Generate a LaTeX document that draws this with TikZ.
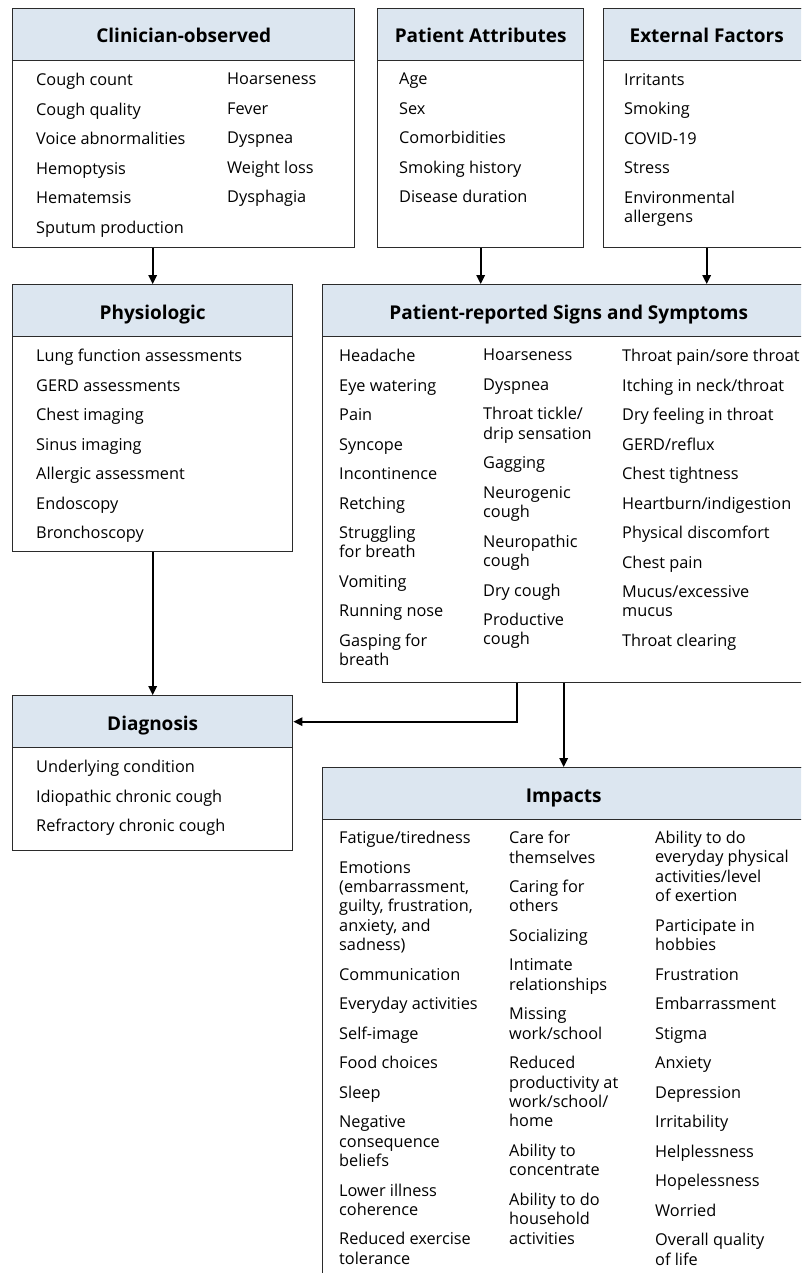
\documentclass[tikz,border=0pt]{standalone}
\usepackage{fontspec}
\setmainfont{Open Sans}
\usetikzlibrary{arrows.meta}
\definecolor{headblue}{HTML}{DCE6F0}
\definecolor{edge}{HTML}{2B2B2B}
\newcommand{\nxt}{\\[10.1pt]}

\begin{document}
\begin{tikzpicture}[x=1pt,y=-1pt,
  body/.style={draw=edge, line width=1.4pt, fill=white, anchor=north west, inner sep=0pt},
  head/.style={draw=edge, line width=1.4pt, fill=headblue, anchor=north west, inner sep=0pt,
    minimum height=52pt, text height=18pt, text depth=1.4pt, font=\bfseries\fontsize{19}{22}\selectfont},
  items/.style={anchor=north west, align=left, inner sep=0pt, font=\fontsize{16.3}{19.4}\selectfont},
  arr/.style={-{Triangle[length=9pt,width=8.5pt]}, line width=1.6pt}]

\useasboundingbox (0,0) rectangle (801,1273);
\clip (0,0) rectangle (801,1273);

% top row
\node[body, minimum width=342pt, minimum height=239pt] (clin) at (12,8) {};
\node[head, minimum width=342pt] (clinH) at (12,8) {Clinician-observed};
\node[items] (clinA) at (36,73) {Cough count\nxt Cough quality\nxt Voice abnormalities\nxt Hemoptysis\nxt Hematemsis\nxt Sputum production};
\node[items] (clinB) at (227,73) {Hoarseness\nxt Fever\nxt Dyspnea\nxt Weight loss\nxt Dysphagia};

\node[body, minimum width=206pt, minimum height=239pt] (attr) at (377,8) {};
\node[head, minimum width=206pt] (attrH) at (377,8) {Patient Attributes};
\node[items] (attrA) at (399,73) {Age\nxt Sex\nxt Comorbidities\nxt Smoking history\nxt Disease duration};

\node[body, minimum width=206pt, minimum height=239pt] (ext) at (603,8) {};
\node[head, minimum width=206pt] (extH) at (603,8) {External Factors};
\node[items] (extA) at (624,73) {Irritants\nxt Smoking\nxt COVID-19\nxt Stress\nxt Environmental\\allergens};

% middle row
\node[body, minimum width=280pt, minimum height=267pt] (phys) at (12,284) {};
\node[head, minimum width=280pt] (physH) at (12,284) {Physiologic};
\node[items] (physA) at (36,349) {Lung function assessments\nxt GERD assessments\nxt Chest imaging\nxt Sinus imaging\nxt Allergic assessment\nxt Endoscopy\nxt Bronchoscopy};

\node[body, minimum width=492pt, minimum height=398pt] (sym) at (322,284) {};
\node[head, minimum width=492pt] (symH) at (322,284) {Patient-reported Signs and Symptoms};
\node[items] (symA) at (339,349) {Headache\nxt Eye watering\nxt Pain\nxt Syncope\nxt Incontinence\nxt Retching\nxt Struggling\\for breath\nxt Vomiting\nxt Running nose\nxt Gasping for\\breath};
\node[items] (symB) at (483,349) {Hoarseness\nxt Dyspnea\nxt Throat tickle/\\drip sensation\nxt Gagging\nxt Neurogenic\\cough\nxt Neuropathic\\cough\nxt Dry cough\nxt Productive\\cough};
\node[items] (symC) at (622,349) {Throat pain/sore throat\nxt Itching in neck/throat\nxt Dry feeling in throat\nxt GERD/reflux\nxt Chest tightness\nxt Heartburn/indigestion\nxt Physical discomfort\nxt Chest pain\nxt Mucus/excessive\\mucus\nxt Throat clearing};

% bottom row
\node[body, minimum width=280pt, minimum height=155pt] (diag) at (12,695) {};
\node[head, minimum width=280pt] (diagH) at (12,695) {Diagnosis};
\node[items] (diagA) at (36,760) {Underlying condition\nxt Idiopathic chronic cough\nxt Refractory chronic cough};

\node[body, minimum width=482pt, minimum height=530pt] (imp) at (322,767) {};
\node[head, minimum width=482pt] (impH) at (322,767) {Impacts};
\node[items] (impA) at (339,831) {Fatigue/tiredness\nxt Emotions\\(embarrassment,\\guilty, frustration,\\anxiety, and\\sadness)\nxt Communication\nxt Everyday activities\nxt Self-image\nxt Food choices\nxt Sleep\nxt Negative\\consequence\\beliefs\nxt Lower illness\\coherence\nxt Reduced exercise\\tolerance};
\node[items] (impB) at (509,831) {Care for\\themselves\nxt Caring for\\others\nxt Socializing\nxt Intimate\\relationships\nxt Missing\\work/school\nxt Reduced\\productivity at\\work/school/\\home\nxt Ability to\\concentrate\nxt Ability to do\\household\\activities};
\node[items] (impC) at (655,831) {Ability to do\\everyday physical\\activities/level\\of exertion\nxt Participate in\\hobbies\nxt Frustration\nxt Embarrassment\nxt Stigma\nxt Anxiety\nxt Depression\nxt Irritability\nxt Helplessness\nxt Hopelessness\nxt Worried\nxt Overall quality\\of life};

% connectors
\coordinate (bend) at (517,700);
\draw[arr] (clin.south -| physH.north) -- (physH.north);
\draw[arr] (attr.south) -- (attr.south |- symH.north);
\draw[arr] (ext.south) -- (ext.south |- symH.north);
\draw[arr] (phys.south) -- (diagH.north);
\draw[arr] (sym.south -| bend) |- (diagH.east);
\draw[arr] (sym.south -| impH.north) -- (impH.north);

\end{tikzpicture}
\end{document}
